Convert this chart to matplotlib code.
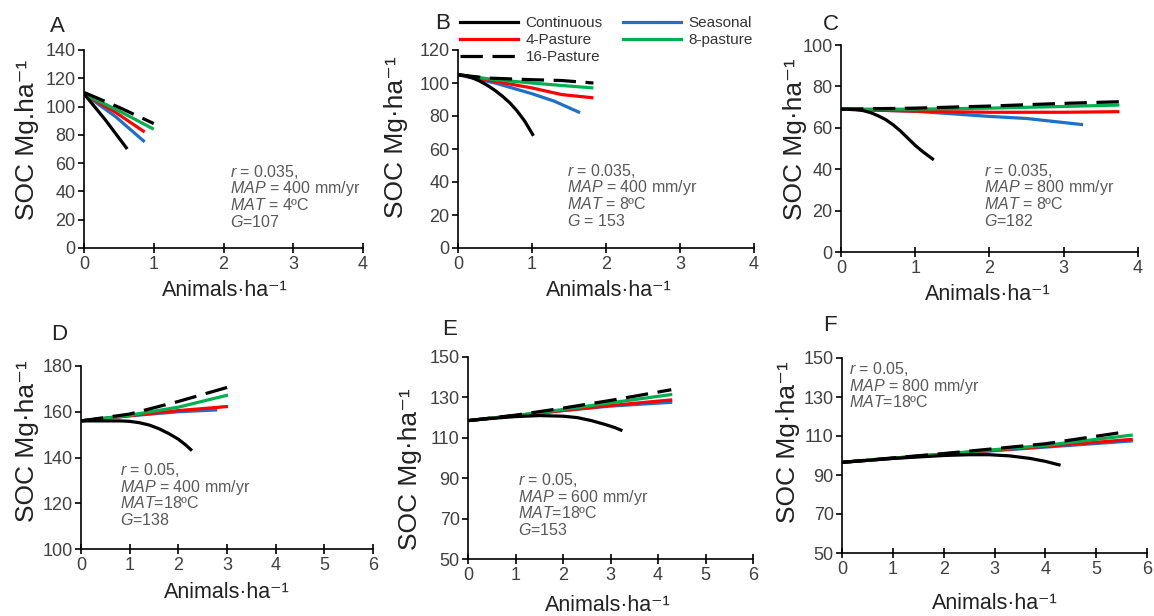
import matplotlib
matplotlib.use("Agg")
import matplotlib.pyplot as plt
from matplotlib.lines import Line2D

plt.rcParams['font.family'] = ['Liberation Sans', 'DejaVu Sans']
plt.rcParams['mathtext.fontset'] = 'custom'
plt.rcParams['mathtext.rm'] = 'Liberation Sans'
plt.rcParams['mathtext.it'] = 'Liberation Sans:italic'
plt.rcParams['mathtext.bf'] = 'Liberation Sans:bold'

series_names = ["Continuous", "Seasonal", "4-Pasture", "8-pasture", "16-Pasture"]
series_colors = ["black", "#1F70C8", "#FF0000", "#00B050", "black"]

# ---- Panel A ----
a_cont_x = [0, 0.3, 0.62];            a_cont_y = [109, 91, 70]
a_seas_x = [0, 0.45, 0.87];           a_seas_y = [109, 93, 75]
a_p4_x = [0, 0.45, 0.87];             a_p4_y = [109, 96, 82]
a_p8_x = [0, 0.5, 1.0];               a_p8_y = [109, 97, 84]
a_p16_x = [0, 0.5, 1.0];              a_p16_y = [110, 99.5, 88]

# ---- Panel B ----
b_cont_x = [0, 0.1, 0.2, 0.3, 0.4, 0.5, 0.6, 0.7, 0.8, 0.9, 1.02]
b_cont_y = [105, 104.5, 103, 101, 98.5, 95.5, 92, 88, 83, 77, 68]
b_seas_x = [0, 0.5, 1.0, 1.3, 1.65];  b_seas_y = [105, 100, 93.5, 89, 82]
b_p4_x = [0, 0.5, 1.0, 1.4, 1.83];    b_p4_y = [105, 101, 97, 93, 91]
b_p8_x = [0, 0.5, 1.0, 1.4, 1.83];    b_p8_y = [105, 102, 100, 98.5, 97]
b_p16_x = [0, 0.4, 1.0, 1.4, 1.83];   b_p16_y = [105, 103, 102, 101.5, 100]

# ---- Panel C ----
c_cont_x = [0, 0.2, 0.3, 0.4, 0.5, 0.6, 0.7, 0.8, 0.9, 1.0, 1.1, 1.25]
c_cont_y = [69, 68.8, 68.3, 67.3, 65.8, 64, 61.5, 58.5, 55, 51.5, 48.5, 44.5]
c_seas_x = [0, 1, 2, 2.5, 3.26];      c_seas_y = [69, 68, 65.5, 64.5, 61.5]
c_p4_x = [0, 1, 2, 3, 3.75];          c_p4_y = [69, 68, 67.5, 67.5, 67.8]
c_p8_x = [0, 1, 2, 3, 3.75];          c_p8_y = [69, 69, 69.5, 70.3, 71]
c_p16_x = [0, 1, 2, 3, 3.75];         c_p16_y = [69, 69.5, 70.5, 71.8, 72.6]

# ---- Panel D ----
d_cont_x = [0, 0.8, 1.0, 1.2, 1.4, 1.6, 1.8, 2.0, 2.15, 2.28]
d_cont_y = [156, 156, 155.8, 155.2, 154.2, 152.6, 150.5, 148, 145.5, 143]
d_seas_x = [0, 1, 2, 2.8];            d_seas_y = [156, 158.2, 160, 160.8]
d_p4_x = [0, 1, 2, 3.02];             d_p4_y = [156, 158.3, 160.5, 162.3]
d_p8_x = [0, 1, 2, 3.02];             d_p8_y = [156, 158.5, 162, 167.3]
d_p16_x = [0, 1, 2, 3.03];            d_p16_y = [156, 159, 164.5, 170.8]

# ---- Panel E ----
e_cont_x = [0, 0.5, 1.0, 1.5, 2.0, 2.3, 2.6, 2.9, 3.1, 3.25]
e_cont_y = [118.5, 119.6, 120.5, 121, 120.7, 120, 118.5, 116.5, 115, 113.5]
e_seas_x = [0, 1, 2, 3, 4.3];         e_seas_y = [118.5, 121, 123.5, 125.7, 127.6]
e_p4_x = [0, 1, 2, 3, 4.3];           e_p4_y = [118.5, 121, 123.5, 126, 128.8]
e_p8_x = [0, 1, 2, 3, 4.3];           e_p8_y = [118.5, 121, 124, 127.3, 131.5]
e_p16_x = [0, 1, 2, 3, 4.28];         e_p16_y = [118.5, 121.2, 124.7, 128.5, 133.8]

# ---- Panel F ----
f_cont_x = [0, 1, 2, 2.5, 2.9, 3.3, 3.7, 4.0, 4.3]
f_cont_y = [96.5, 98.5, 100, 100.4, 100.4, 99.8, 98.5, 97, 95]
f_seas_x = [0, 1, 2, 3, 4, 5.72];     f_seas_y = [96.5, 98.5, 100.5, 102.5, 104.3, 107.5]
f_p4_x = [0, 2, 4, 5.72];             f_p4_y = [96.5, 100.7, 104.7, 108.3]
f_p8_x = [0, 2, 4, 5.72];             f_p8_y = [96.5, 100.8, 105.2, 110.5]
f_p16_x = [0, 2, 4, 5.47];            f_p16_y = [96.5, 101, 106, 111.7]

panel_letters = ["A", "B", "C", "D", "E", "F"]
x_limits = [(0, 4), (0, 4), (0, 4), (0, 6), (0, 6), (0, 6)]
y_limits = [(0, 140), (0, 120), (0, 100), (100, 180), (50, 150), (50, 150)]
y_steps = [20, 20, 20, 20, 20, 20]
y_labels = ["SOC Mg.ha\u207b\u00b9", "SOC Mg\u00b7ha\u207b\u00b9", "SOC Mg\u00b7ha\u207b\u00b9",
            "SOC Mg\u00b7ha\u207b\u00b9", "SOC Mg\u00b7ha\u207b\u00b9", "SOC Mg\u00b7ha\u207b\u00b9"]
x_label = "Animals\u00b7ha\u207b\u00b9"
notes = [
    ["$\\mathit{r}$ = 0.035,", "$\\mathit{MAP}$ = 400 mm/yr", "$\\mathit{MAT}$ = 4\u00baC", "$\\mathit{G}$=107"],
    ["$\\mathit{r}$ = 0.035,", "$\\mathit{MAP}$ = 400 mm/yr", "$\\mathit{MAT}$ = 8\u00baC", "$\\mathit{G}$ = 153"],
    ["$\\mathit{r}$ = 0.035,", "$\\mathit{MAP}$ = 800 mm/yr", "$\\mathit{MAT}$ = 8\u00baC", "$\\mathit{G}$=182"],
    ["$\\mathit{r}$ = 0.05,", "$\\mathit{MAP}$ = 400 mm/yr", "$\\mathit{MAT}$=18\u00baC", "$\\mathit{G}$=138"],
    ["$\\mathit{r}$ = 0.05,", "$\\mathit{MAP}$ = 600 mm/yr", "$\\mathit{MAT}$=18\u00baC", "$\\mathit{G}$=153"],
    ["$\\mathit{r}$ = 0.05,", "$\\mathit{MAP}$ = 800 mm/yr", "$\\mathit{MAT}$=18\u00baC"],
]

panels_data = [
    [(a_cont_x, a_cont_y), (a_seas_x, a_seas_y), (a_p4_x, a_p4_y), (a_p8_x, a_p8_y), (a_p16_x, a_p16_y)],
    [(b_cont_x, b_cont_y), (b_seas_x, b_seas_y), (b_p4_x, b_p4_y), (b_p8_x, b_p8_y), (b_p16_x, b_p16_y)],
    [(c_cont_x, c_cont_y), (c_seas_x, c_seas_y), (c_p4_x, c_p4_y), (c_p8_x, c_p8_y), (c_p16_x, c_p16_y)],
    [(d_cont_x, d_cont_y), (d_seas_x, d_seas_y), (d_p4_x, d_p4_y), (d_p8_x, d_p8_y), (d_p16_x, d_p16_y)],
    [(e_cont_x, e_cont_y), (e_seas_x, e_seas_y), (e_p4_x, e_p4_y), (e_p8_x, e_p8_y), (e_p16_x, e_p16_y)],
    [(f_cont_x, f_cont_y), (f_seas_x, f_seas_y), (f_p4_x, f_p4_y), (f_p8_x, f_p8_y), (f_p16_x, f_p16_y)],
]

# ---- layout (pixels) ----
W, H = 1154, 616
axes_px = [(84, 363, 50, 248), (458, 754, 50, 248), (841, 1138, 45, 252),
           (81, 373, 366, 549), (468, 753, 357, 559), (842, 1147, 358, 553)]
note_pos = [(2.09, 50.4), (1.47, 43.8), (1.93, 36.9), (0.80, 132.3), (1.06, 86.6), (0.14, 141.8)]
letter_px = [(50, 32), (435, 29), (823, 30), (51, 340), (442, 335), (823, 331)]
ylabel_pos = [(-0.205, 0.545), (-0.21, 0.56), (-0.155, 0.546), (-0.185, 0.59), (-0.204, 0.446), (-0.177, 0.57)]
xlabel_pos = [(0.505, -0.215), (0.51, -0.215), (0.495, -0.205), (0.5, -0.235), (0.49, -0.23), (0.5, -0.26)]

fig = plt.figure(figsize=(W / 100, H / 100), dpi=100)
TXT = "#404040"
NOTE = "#595959"

for i in range(6):
    l, r, t, b = axes_px[i]
    ax = fig.add_axes([l / W, 1 - b / H, (r - l) / W, (b - t) / H])
    for j, (xs, ys) in enumerate(panels_data[i]):
        kw = dict(color=series_colors[j], lw=2.3, solid_capstyle='butt')
        if j == 4:
            kw['dashes'] = (7, 3)
        order = [5, 2, 3, 4, 6][j]
        ax.plot(xs, ys, zorder=order, **kw)
    ax.set_xlim(*x_limits[i])
    ax.set_ylim(*y_limits[i])
    ax.set_xticks(range(x_limits[i][0], x_limits[i][1] + 1))
    ax.set_yticks(range(y_limits[i][0], y_limits[i][1] + 1, y_steps[i]))
    for s in ['top', 'right']:
        ax.spines[s].set_visible(False)
    for s in ['left', 'bottom']:
        ax.spines[s].set_linewidth(1.2)
    ax.tick_params(axis='x', direction='inout', length=7, width=1.2, labelsize=13, labelcolor=TXT, pad=2)
    ax.tick_params(axis='y', direction='out', length=4, width=1.2, labelsize=13, labelcolor=TXT, pad=2)
    ax.set_ylabel(y_labels[i], fontsize=19, color='#222222')
    ax.yaxis.label.set_verticalalignment('center')
    ax.yaxis.set_label_coords(*ylabel_pos[i])
    ax.set_xlabel(x_label, fontsize=15.5, color='#222222')
    ax.xaxis.label.set_verticalalignment('center')
    ax.xaxis.set_label_coords(*xlabel_pos[i])
    nx, ny = note_pos[i]
    for k, line in enumerate(notes[i]):
        ax.annotate(line, xy=(nx, ny), xycoords='data', xytext=(0, -k * 12.0),
                    textcoords='offset points', fontsize=11.5, color=NOTE,
                    ha='left', va='baseline', annotation_clip=False)
    lx, ly = letter_px[i]
    fig.text(lx / W, 1 - ly / H, panel_letters[i], fontsize=16, color='#222222',
             ha='left', va='baseline')

handles = [Line2D([], [], color=series_colors[j], lw=2.3, dashes=(7, 3) if j == 4 else (None, None))
           for j in range(5)]
order = [0, 2, 4, 1, 3]
fig.legend([handles[o] for o in order], [series_names[o] for o in order], ncol=2,
           loc='upper left', bbox_to_anchor=(460 / W, 1 - 16 / H), bbox_transform=fig.transFigure,
           frameon=False, fontsize=11, handlelength=3.8, handletextpad=0.5,
           columnspacing=1.3, labelspacing=0.2, borderpad=0, borderaxespad=0,
           labelcolor='#333333')

fig.savefig("out.png", dpi=100)
